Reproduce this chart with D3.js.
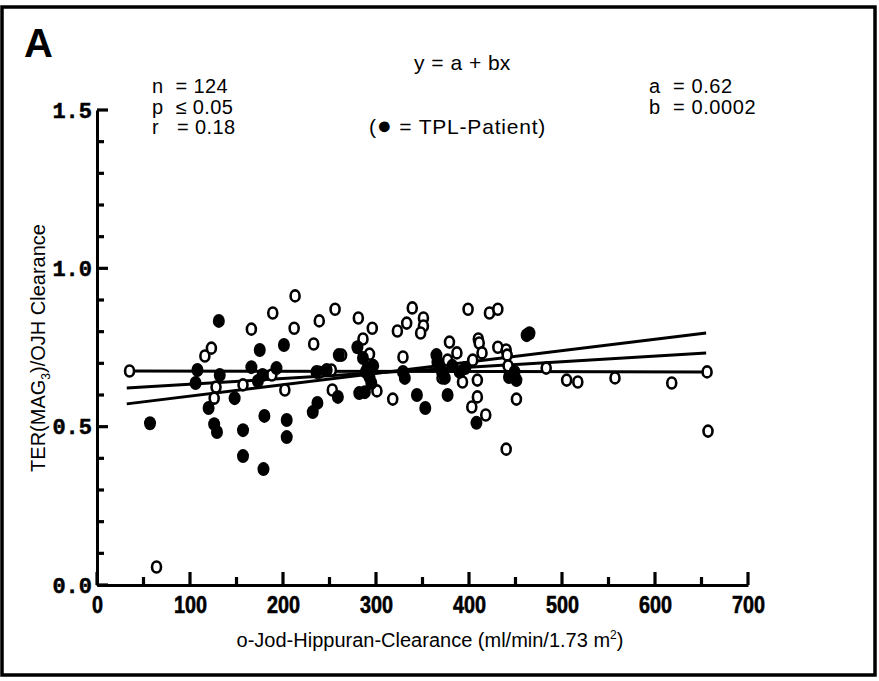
<!DOCTYPE html>
<html>
<head>
<meta charset="utf-8">
<script src="https://cdn.jsdelivr.net/npm/d3@7"></script>
<style>
body { margin: 0; background: #fff; }
text { font-family: "Liberation Sans", Arial, sans-serif; fill: #000; }
</style>
</head>
<body>
<script>

// size of the page
var width = 879;
var height = 681;

// open circles (all patients without TPL), [clearance, ratio]
var openPts = [
	[35,0.676],[64,0.057],[116,0.723],[123,0.748],[128,0.625],[126,0.590],[157,0.632],
	[166,0.808],[189,0.859],[202,0.616],[188,0.663],[213,0.913],[212,0.811],[239,0.834],
	[256,0.871],[233,0.761],[253,0.616],[263,0.726],[281,0.843],[296,0.811],[286,0.777],
	[293,0.729],[301,0.613],[318,0.587],[339,0.875],[333,0.827],[323,0.802],[351,0.843],
	[351,0.818],[348,0.796],[329,0.720],[399,0.871],[379,0.767],[387,0.733],[377,0.710],
	[404,0.710],[393,0.641],[371,0.654],[409,0.647],[409,0.594],[403,0.562],[418,0.537],
	[422,0.859],[431,0.871],[410,0.777],[411,0.764],[431,0.751],[440,0.742],[441,0.726],
	[414,0.733],[440,0.429],[442,0.692],[451,0.587],[483,0.685],[505,0.647],[517,0.641],
	[557,0.654],[618,0.638],[656,0.673],[657,0.486],[239,0.672],[252,0.679]
];

// filled circles (TPL patients)
var tplPts = [
	[57,0.511],[131,0.834],[175,0.742],[201,0.758],[108,0.679],[106,0.638],[132,0.663],
	[120,0.559],[148,0.590],[126,0.508],[129,0.483],[157,0.489],[157,0.407],[179,0.366],
	[180,0.534],[204,0.521],[204,0.467],[166,0.688],[178,0.663],[173,0.644],[193,0.685],
	[232,0.546],[237,0.575],[236,0.673],[247,0.679],[260,0.726],[259,0.594],[280,0.751],
	[286,0.717],[282,0.606],[288,0.609],[291,0.685],[293,0.657],[295,0.638],[329,0.673],
	[331,0.654],[344,0.600],[353,0.559],[365,0.726],[366,0.704],[371,0.673],[374,0.654],
	[377,0.600],[408,0.512],[462,0.789],[465,0.795],[443,0.657],[449,0.673],[451,0.647],
	[289,0.673],[297,0.692],[382,0.692],[390,0.673],[396,0.685]
];

// regression line and the two band lines: [x0, y0, x1, y1]
var fitLines = [
	[32,0.676,655,0.673],
	[32,0.622,655,0.733],
	[32,0.572,655,0.796]
];

var xTicks = [0,100,200,300,400,500,600,700];
var xMinor = [50,150,250,350,450,550,650];
var yTicks = [0,0.5,1.0,1.5];
var yMinor = [0.1,0.2,0.3,0.4,0.6,0.7,0.8,0.9,1.1,1.2,1.3,1.4];

var statsLeft = ["n  = 124", "p  \u2264 0.05", "r   = 0.18"];
var statsRight = ["a  = 0.62", "b  = 0.0002"];

var x = d3.scaleLinear().domain([0,700]).range([97,748]);
var y = d3.scaleLinear().domain([0,1.5]).range([585,110]);

var svg = d3.select("body")
			.append("svg")
			.attr("width", width)
			.attr("height", height);

// outer frame
svg.append("rect")
	.attr("x", 2).attr("y", 7)
	.attr("width", 873).attr("height", 668)
	.attr("fill", "none")
	.attr("stroke", "#000")
	.attr("stroke-width", 3.5);

svg.append("text")
	.attr("x", 24).attr("y", 57)
	.style("font-size", "40px")
	.style("font-weight", "bold")
	.text("A");

// header texts
svg.append("text")
	.attr("x", 414).attr("y", 70)
	.style("font-size", "21px")
	.style("word-spacing", "1px")
	.text("y = a + bx");

svg.selectAll(".sl")
	.data(statsLeft)
	.enter()
	.append("text")
	.attr("class", "sl")
	.attr("x", 152)
	.attr("y", function(d, i) { return 93 + i * 20.5; })
	.attr("xml:space", "preserve")
	.style("font-size", "20px")
	.style("letter-spacing", "0.4px")
	.text(function(d) { return d; });

svg.selectAll(".sr")
	.data(statsRight)
	.enter()
	.append("text")
	.attr("class", "sr")
	.attr("x", 649)
	.attr("y", function(d, i) { return 93 + i * 20.5; })
	.attr("xml:space", "preserve")
	.style("font-size", "20px")
	.style("letter-spacing", "0.6px")
	.text(function(d) { return d; });

var leg = svg.append("text")
	.attr("x", 369).attr("y", 134)
	.attr("xml:space", "preserve")
	.style("font-size", "21px")
	.style("letter-spacing", "0.8px")
	.text("(");
leg.append("tspan").style("font-size", "25px").text("\u25CF");
leg.append("tspan").text(" = TPL-Patient)");

// axis lines and labels
var gx = svg.append("g").attr("transform", "translate(0," + y(0) + ")")
	.call(d3.axisBottom(x).tickValues(xTicks).tickSizeInner(0).tickSizeOuter(0).tickPadding(12));

var gy = svg.append("g").attr("transform", "translate(" + x(0) + ",0)")
	.call(d3.axisLeft(y).tickValues(yTicks).tickSizeInner(0).tickSizeOuter(0).tickPadding(5)
		.tickFormat(d3.format(".1f")));

svg.selectAll(".domain")
	.attr("stroke", "#000")
	.attr("stroke-width", 3);

gx.selectAll(".tick text")
	.attr("transform", "scale(0.86,1)")
	.style("font-weight", "bold")
	.style("font-size", "23px")
	.style("stroke", "#000")
	.style("stroke-width", 0.6);

gy.selectAll(".tick text")
	.style("font-family", "'Liberation Mono', monospace")
	.style("font-weight", "bold")
	.style("font-size", "22px")
	.style("stroke", "#000")
	.style("stroke-width", 0.5);

// tick marks point into the plot
var tickG = svg.append("g").attr("stroke", "#000").attr("stroke-width", 3.2);

tickG.selectAll(".xtk")
	.data(xTicks.concat(xMinor))
	.enter()
	.append("line")
	.attr("x1", function(d) { return x(d); })
	.attr("x2", function(d) { return x(d); })
	.attr("y1", y(0))
	.attr("y2", function(d) { return y(0) - (d % 100 === 0 ? 13 : 8); });

tickG.selectAll(".ytk")
	.data(yTicks.concat(yMinor))
	.enter()
	.append("line")
	.attr("y1", function(d) { return y(d); })
	.attr("y2", function(d) { return y(d); })
	.attr("x1", x(0))
	.attr("x2", function(d) { return x(0) + (yTicks.indexOf(d) >= 0 ? 11 : 7); });

// axis titles
var xt = svg.append("text")
	.attr("x", 430).attr("y", 647)
	.attr("text-anchor", "middle")
	.style("font-size", "20px")
	.text("o-Jod-Hippuran-Clearance (ml/min/1.73 m");
xt.append("tspan").attr("dy", -8).style("font-size", "12px").text("2");
xt.append("tspan").attr("dy", 8).text(")");

var yt = svg.append("text")
	.attr("transform", "translate(45,348) rotate(-90)")
	.attr("text-anchor", "middle")
	.style("font-size", "20px")
	.text("TER(MAG");
yt.append("tspan").attr("dy", 5).style("font-size", "12px").text("3");
yt.append("tspan").attr("dy", -5).text(")/OJH Clearance");

// lines
svg.selectAll(".fit")
	.data(fitLines)
	.enter()
	.append("line")
	.attr("class", "fit")
	.attr("x1", function(d) { return x(d[0]); })
	.attr("y1", function(d) { return y(d[1]); })
	.attr("x2", function(d) { return x(d[2]); })
	.attr("y2", function(d) { return y(d[3]); })
	.attr("stroke", "#000")
	.attr("stroke-width", 3);

// points
svg.selectAll(".op")
	.data(openPts)
	.enter()
	.append("ellipse")
	.attr("class", "op")
	.attr("cx", function(d) { return x(d[0]); })
	.attr("cy", function(d) { return y(d[1]); })
	.attr("rx", 4.5)
	.attr("ry", 5.5)
	.attr("fill", "#fff")
	.attr("stroke", "#000")
	.attr("stroke-width", 2.6);

svg.selectAll(".tp")
	.data(tplPts)
	.enter()
	.append("ellipse")
	.attr("class", "tp")
	.attr("cx", function(d) { return x(d[0]); })
	.attr("cy", function(d) { return y(d[1]); })
	.attr("rx", 6)
	.attr("ry", 7)
	.attr("fill", "#000");

</script>
</body>
</html>
